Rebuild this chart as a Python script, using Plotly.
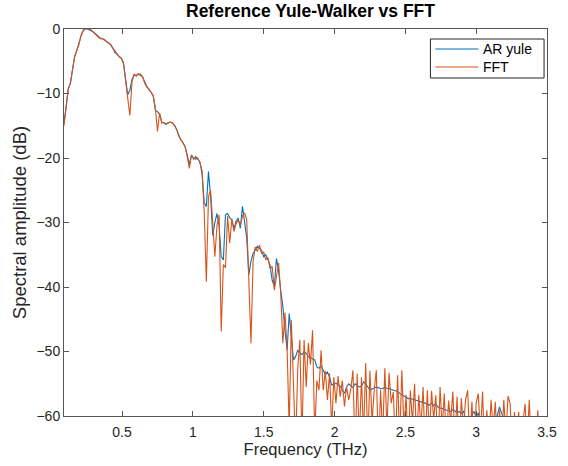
import numpy as np
import plotly.graph_objects as go

# Spectral amplitude (dB) on a uniform frequency grid starting at 0.09 THz, step 0.015 THz
f_start = 0.09
f_step = 0.015

ar_yule_db = [
    -14.6, -11.5, -9.2, -8.5, -6.0, -4.2, -3.4, -2.2, -1.1, -0.3,
    0.0, 0.0, -0.1, -0.3, -0.5, -0.8, -1.2, -1.4, -1.5, -1.7,
    -2.0, -2.1, -2.5, -3.0, -3.6, -3.9, -4.3, -4.5, -5.2, -7.8,
    -10.2, -9.5, -7.8, -7.2, -7.1, -7.0, -7.0, -7.5, -8.3, -8.9,
    -9.4, -9.8, -10.4, -12.6, -12.8, -13.2, -14.4, -14.6, -14.7, -14.6,
    -14.4, -14.6, -14.9, -15.6, -16.4, -17.2, -17.6, -18.3, -19.5, -21.0,
    -19.5, -20.2, -19.8, -20.2, -20.6, -22.5, -27.0, -27.5, -22.1, -26.0,
    -32.0, -30.0, -28.6, -30.5, -35.3, -35.8, -28.8, -28.6, -29.3, -29.6,
    -31.0, -29.8, -29.3, -30.9, -27.5, -29.9, -32.5, -38.1, -36.0, -34.8,
    -34.3, -33.7, -34.0, -34.3, -35.3, -35.0, -35.8, -36.6, -39.0, -39.9,
    -35.6, -37.4, -40.5, -43.0, -46.7, -49.8, -44.1, -47.5, -51.3, -50.8,
    -49.8, -50.2, -50.5, -50.0, -50.3, -50.8, -51.0, -51.2, -51.3, -52.4,
    -52.6, -52.2, -52.9, -53.6, -53.2, -54.0, -55.2, -55.0, -54.9, -55.2,
    -55.4, -56.0, -56.5, -55.5, -55.0, -55.3, -55.6, -55.0, -55.2, -55.5,
    -55.4, -54.7, -55.0, -55.6, -56.0, -55.8, -55.6, -55.5, -55.6, -55.8,
    -55.7, -55.6, -55.7, -55.7, -55.9, -56.0, -56.0, -56.2, -56.5, -56.7,
    -56.8, -57.1, -57.3, -57.3, -57.4, -57.5, -57.5, -57.6, -57.8, -57.8,
    -58.0, -58.2, -58.3, -58.0, -58.4, -58.1, -58.6, -58.8, -58.8, -59.0,
    -59.1, -59.1, -59.3, -59.0, -59.3, -59.5, -59.3, -59.6, -59.2, -60.4,
    -60.5, -61.0, -59.8, -59.3, -60.2, -59.5, -60.8, -61.0, -60.5, -61.2,
    -60.8, -61.0, -60.6, -61.2, -59.8, -58.6, -59.6, -60.5, -61.0, -61.5,
    -61.8, -62.0, -62.2, -62.5, -62.6, -62.8, -63.0, -63.0, -63.2, -63.3,
    -63.5, -63.6, -63.8, -64.0, -64.0, -64.2, -64.3, -64.4,
]

fft_db = [
    -15.0, -11.8, -9.4, -8.3, -6.2, -4.4, -3.3, -2.4, -1.0, -0.2,
    0.1, 0.1, 0.0, -0.2, -0.6, -0.9, -1.2, -1.5, -1.5, -1.6,
    -2.0, -2.2, -2.4, -3.0, -3.7, -3.9, -4.2, -4.6, -5.4, -8.0,
    -10.5, -13.4, -8.2, -7.0, -7.3, -6.9, -7.2, -7.4, -8.4, -9.0,
    -9.3, -9.9, -10.3, -12.2, -15.9, -13.0, -14.6, -14.5, -14.8, -14.5,
    -14.5, -14.5, -15.0, -15.5, -16.6, -17.1, -17.8, -18.2, -19.8, -21.6,
    -19.6, -20.0, -20.2, -20.0, -20.8, -22.0, -28.5, -39.2, -26.0, -25.0,
    -30.0, -35.3, -30.5, -28.8, -46.9, -36.5, -37.0, -29.0, -33.2, -29.4,
    -31.4, -30.2, -29.6, -30.5, -29.0, -28.5, -29.6, -40.0, -48.7, -36.0,
    -33.8, -34.5, -33.5, -34.8, -34.6, -35.8, -35.4, -37.2, -36.8, -40.5,
    -38.0, -36.3, -41.0, -48.7, -44.0, -49.5, -62.0, -45.1, -55.0, -65.0,
    -52.7, -48.2, -64.0, -48.2, -55.5, -48.7, -52.0, -46.7, -63.0, -54.5,
    -56.0, -49.8, -56.0, -53.0, -57.5, -53.4, -62.0, -54.0, -58.0, -53.8,
    -57.0, -54.5, -58.5, -55.5, -57.5, -55.8, -52.9, -66.0, -53.4, -64.0,
    -54.0, -63.0, -51.8, -65.0, -53.0, -61.0, -56.0, -52.9, -66.0, -56.0,
    -63.0, -52.6, -62.0, -53.3, -58.0, -56.3, -65.0, -53.7, -64.0, -52.9,
    -62.0, -56.7, -66.0, -56.0, -61.0, -55.0, -64.0, -56.7, -62.0, -55.5,
    -65.0, -56.0, -63.0, -56.1, -60.5, -56.8, -66.0, -55.5, -62.0, -56.5,
    -65.0, -57.6, -61.0, -56.2, -64.0, -57.0, -66.0, -57.2, -62.0, -57.5,
    -56.0, -64.0, -57.8, -65.0, -58.0, -56.5, -63.0, -56.2, -66.0, -59.1,
    -64.0, -57.5, -62.0, -57.8, -65.0, -59.1, -64.0, -57.5, -63.0, -56.9,
    -58.1, -66.0, -59.4, -64.0, -59.4, -65.0, -61.0, -58.1, -64.0, -57.5,
    -66.0, -63.0, -65.0, -59.1, -66.0, -67.0, -66.0, -67.0,
]

series_names = ["AR yule", "FFT"]
series_colors = ["#0072BD", "#D95319"]

x_ticks = [0.5, 1, 1.5, 2, 2.5, 3, 3.5]
y_ticks = [-60, -50, -40, -30, -20, -10, 0]

freq_ar = f_start + f_step * np.arange(len(ar_yule_db))
freq_fft = f_start + f_step * np.arange(len(fft_db))

FONT = "Liberation Sans, Arial, Helvetica, sans-serif"
AXIS_COLOR = "#555555"
TEXT_COLOR = "#262626"

# plot area in pixels (figure 568 x 466)
L, R, T, B = 64, 557, 29, 416
W, H = 568, 466


def px_x(px):
    return (px - L) / (R - L)


def px_y(py):
    return (B - py) / (B - T)


fig = go.Figure()
for name, color, fx, fy in zip(series_names, series_colors,
                               [freq_ar, freq_fft], [ar_yule_db, fft_db]):
    fig.add_trace(go.Scatter(
        x=fx, y=fy, mode="lines", name=name,
        line=dict(color=color, width=1.1), showlegend=False,
    ))

axis_common = dict(
    showline=True, linecolor=AXIS_COLOR, linewidth=1,
    mirror="ticks", ticks="inside", ticklen=5, tickcolor=AXIS_COLOR,
    showgrid=False, zeroline=False,
    tickfont=dict(family=FONT, size=14, color=TEXT_COLOR),
)

# boxed legend in the upper-right corner of the axes
shapes = [dict(
    type="rect", xref="paper", yref="paper",
    x0=px_x(438), x1=px_x(554), y0=px_y(78), y1=px_y(39),
    line=dict(color="#262626", width=1), fillcolor="#ffffff", layer="above",
)]
annotations = []
for i, (name, color) in enumerate(zip(series_names, series_colors)):
    yy = px_y(49 + 18 * i)
    shapes.append(dict(
        type="line", xref="paper", yref="paper",
        x0=px_x(443), x1=px_x(487), y0=yy, y1=yy,
        line=dict(color=color, width=1.1), layer="above",
    ))
    annotations.append(dict(
        xref="paper", yref="paper", x=px_x(490), y=yy,
        xanchor="left", yanchor="middle", showarrow=False,
        text=name, font=dict(family=FONT, size=14, color="#000000"),
    ))

fig.update_layout(
    width=W, height=H,
    margin=dict(l=L, r=W - R, t=T, b=H - B),
    paper_bgcolor="#ffffff", plot_bgcolor="#ffffff",
    title=dict(
        text="<b>Reference Yule-Walker vs FFT</b>",
        x=(L + R) / 2 / W, xanchor="center",
        y=1 - 11 / H, yanchor="middle",
        font=dict(family=FONT, size=17.5, color="#000000"),
    ),
    xaxis=dict(
        range=[f_start, 3.5], tickvals=x_ticks,
        ticktext=[f"{v:g}" for v in x_ticks],
        ticklabelstandoff=3,
        title=dict(text="Frequency (THz)", standoff=0,
                   font=dict(family=FONT, size=16.5, color=TEXT_COLOR)),
        **axis_common,
    ),
    yaxis=dict(
        range=[-60, 0], tickvals=y_ticks,
        title=dict(text="Spectral amplitude (dB)", standoff=4,
                   font=dict(family=FONT, size=18.5, color=TEXT_COLOR)),
        **axis_common,
    ),
    shapes=shapes,
    annotations=annotations,
    showlegend=False,
)

fig.write_html("out.html")
